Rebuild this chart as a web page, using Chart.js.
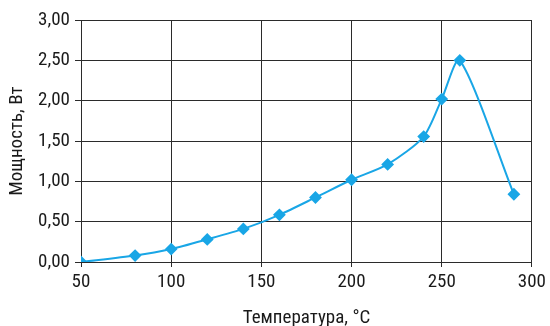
<!DOCTYPE html>
<html>
<head>
<meta charset="utf-8">
<script src="https://cdn.jsdelivr.net/npm/chart.js@4"></script>
<style>
  html, body { margin: 0; padding: 0; background: #fff; }
  #wrap { width: 550px; height: 326px; }
</style>
</head>
<body>
<div id="wrap"><canvas id="chart" width="550" height="326"></canvas></div>
<script>
// temperature, °C
const temps = [50, 80, 100, 120, 140, 160, 180, 200, 220, 240, 250, 260, 290];
// power, W
const power = [0, 0.08, 0.16, 0.28, 0.41, 0.585, 0.80, 1.02, 1.21, 1.555, 2.02, 2.50, 0.84];
const xTitle = "Температура, °C";
const yTitle = "Мощность, Вт";

const FONT = "'Roboto Condensed', 'Liberation Sans Narrow', 'DejaVu Sans Condensed', 'Roboto', sans-serif";
const lineColor = "#19a6e6";
const gridColor = "#2b2b2b";
const textColor = "#1a1a1a";

const points = temps.map((t, i) => ({ x: t, y: power[i] }));

new Chart(document.getElementById("chart"), {
  type: "line",
  data: {
    datasets: [
      {
        data: points,
        borderColor: lineColor,
        backgroundColor: lineColor,
        borderWidth: 2,
        tension: 0.25,
        pointStyle: "rectRot",
        pointRadius: 5,
        pointBackgroundColor: lineColor,
        pointBorderColor: lineColor,
      },
    ],
  },
  options: {
    responsive: false,
    animation: false,
    layout: { padding: { top: 20, right: 10, left: 0, bottom: 0 } },
    plugins: { legend: { display: false }, tooltip: { enabled: false } },
    scales: {
      x: {
        type: "linear",
        min: 50,
        max: 300,
        ticks: { stepSize: 50, color: textColor, font: { family: FONT, size: 19 }, padding: 4 },
        grid: { color: gridColor, tickLength: 5, lineWidth: 1 },
        border: { color: gridColor },
        title: { display: true, text: xTitle, color: textColor, font: { family: FONT, size: 19 }, padding: { top: 4, bottom: -4 } },
        afterFit: (scale) => { scale.height = 64; },
      },
      y: {
        min: 0,
        max: 3,
        ticks: {
          stepSize: 0.5,
          color: textColor,
          font: { family: FONT, size: 19 },
          padding: 5,
          callback: (v) => v.toFixed(2).replace(".", ","),
        },
        grid: { color: gridColor, tickLength: 6, lineWidth: 1 },
        border: { color: gridColor },
        title: { display: true, text: yTitle, color: textColor, font: { family: FONT, size: 19 }, padding: { top: 6, bottom: 4 } },
        afterFit: (scale) => { scale.width = 81; },
      },
    },
  },
});
</script>
</body>
</html>
